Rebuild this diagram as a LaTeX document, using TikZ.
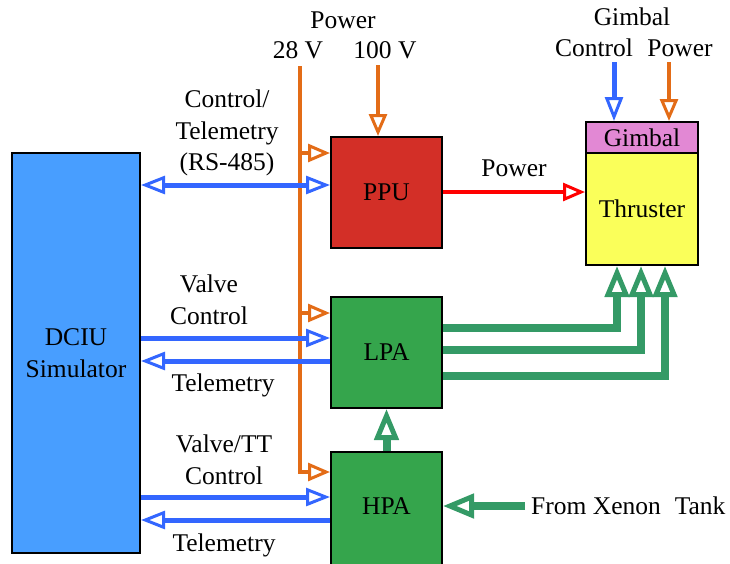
\documentclass[tikz,border=0pt]{standalone}
\usepackage{fontspec}
\setmainfont{Liberation Serif}
\usetikzlibrary{arrows.meta}

\definecolor{dciublue}{RGB}{72,158,255}
\definecolor{ppured}{RGB}{211,47,39}
\definecolor{boxgreen}{RGB}{53,165,76}
\definecolor{gasgreen}{RGB}{52,154,102}
\definecolor{thrustyellow}{RGB}{250,255,90}
\definecolor{gimbalpink}{RGB}{226,136,212}
\definecolor{sigblue}{RGB}{51,102,255}
\definecolor{pwrorange}{RGB}{227,108,23}

\begin{document}
\begin{tikzpicture}[x=1pt,y=-1pt,font=\fontsize{25.5}{31.5}\selectfont,
  box/.style={draw=black,line width=2pt,inner sep=0pt,minimum width=111pt,minimum height=111pt},
  lbl/.style={inner sep=0pt,align=center},
  sig/.style={draw=sigblue,line width=5pt,-{Triangle[open,length=24pt,width=18pt,line width=3pt]}},
  sigboth/.style={sig,{Triangle[open,length=24pt,width=18pt,line width=3pt]}-{Triangle[open,length=24pt,width=18pt,line width=3pt]}},
  pwr/.style={draw=pwrorange,line width=4pt,-{Triangle[open,length=22pt,width=18pt,line width=3pt]}},
  rf/.style={draw=red,line width=4pt,-{Triangle[open,length=22pt,width=18pt,line width=3pt]}},
  gas/.style={draw=gasgreen,line width=8pt,-{Triangle[open,length=31pt,width=24pt,line width=5pt]}}]
\useasboundingbox (0,0) rectangle (730,563);

% blocks
\node[box,fill=dciublue,minimum width=128pt,minimum height=400pt,align=center] (dciu) at (76,353) {DCIU\\Simulator};
\node[box,fill=ppured] (ppu) at (386.5,192.5) {PPU};
\node[box,fill=boxgreen] (lpa) at (386.5,352.5) {LPA};
\node[box,fill=boxgreen,minimum height=114pt] (hpa) at (386.5,509) {};
\node at (386.5,506) {HPA};
\node[box,fill=thrustyellow,minimum width=112pt,minimum height=112pt] (thruster) at (642,209) {Thruster};
\node[box,fill=gimbalpink,minimum width=112pt,minimum height=31pt] (gimbal) at (642,137.5) {Gimbal};

% labels
\node[lbl] (power) at (343,20) {Power};
\node[lbl] (lv) at (298,50) {28 V};
\node[lbl] (hv) at (385,50) {100 V};
\node[lbl] (ctl) at (227,133) {Control/\\Telemetry\\(RS-485)};
\node[lbl] (vctl) at (209,300) {Valve\\Control};
\node[lbl] (ltm) at (223,385) {Telemetry};
\node[lbl] (ttctl) at (224,460) {Valve/TT\\Control};
\node[lbl] (htm) at (224,545) {Telemetry};
\node[lbl] (thpwr) at (514,168) {Power};
\node[lbl] (gmb) at (632,17) {Gimbal};
\node[lbl] (gctl) at (594,48) {Control};
\node[lbl] (gpwr) at (680,48) {Power};
\node[lbl,anchor=west,inner xsep=6pt] (xenon) at (525,506) {From Xenon\hspace{0.55em}Tank};

% 28 V bus and 100 V feed
\coordinate (bus) at (300,66);
\draw[pwr] (bus) |- (hpa.west |- 0,472);
\draw[pwr] (bus |- 0,153) -- (ppu.west |- 0,153);
\draw[pwr] (bus |- 0,313) -- (lpa.west |- 0,313);
\coordinate (hvin) at (378,65);
\draw[pwr] (hvin) -- (ppu.north -| hvin);

% control and telemetry
\draw[sigboth] (dciu.east |- 0,185) -- (ppu.west |- 0,185);
\draw[sig] (dciu.east |- 0,338) -- (lpa.west |- 0,338);
\draw[sig] (lpa.west |- 0,361) -- (dciu.east |- 0,361);
\draw[sig] (dciu.east |- 0,497) -- (hpa.west |- 0,497);
\draw[sig] (hpa.west |- 0,520) -- (dciu.east |- 0,520);

% thruster power and gimbal
\draw[rf] (ppu.east |- 0,192) -- (thruster.west |- 0,192);
\coordinate (gcin) at (614,62);
\draw[sig] (gcin) -- (gimbal.north -| gcin);
\coordinate (gpin) at (669,62);
\draw[pwr] (gpin) -- (gimbal.north -| gpin);

% propellant
\foreach \y/\x in {328/617,350/641,376/665}
  \draw[gas] (lpa.east |- 0,\y) -| (thruster.south -| \x,0);
\draw[gas] (hpa.north) -- (lpa.south);
\draw[gas] (xenon.west) -- (hpa.east |- xenon.west);
\end{tikzpicture}
\end{document}
